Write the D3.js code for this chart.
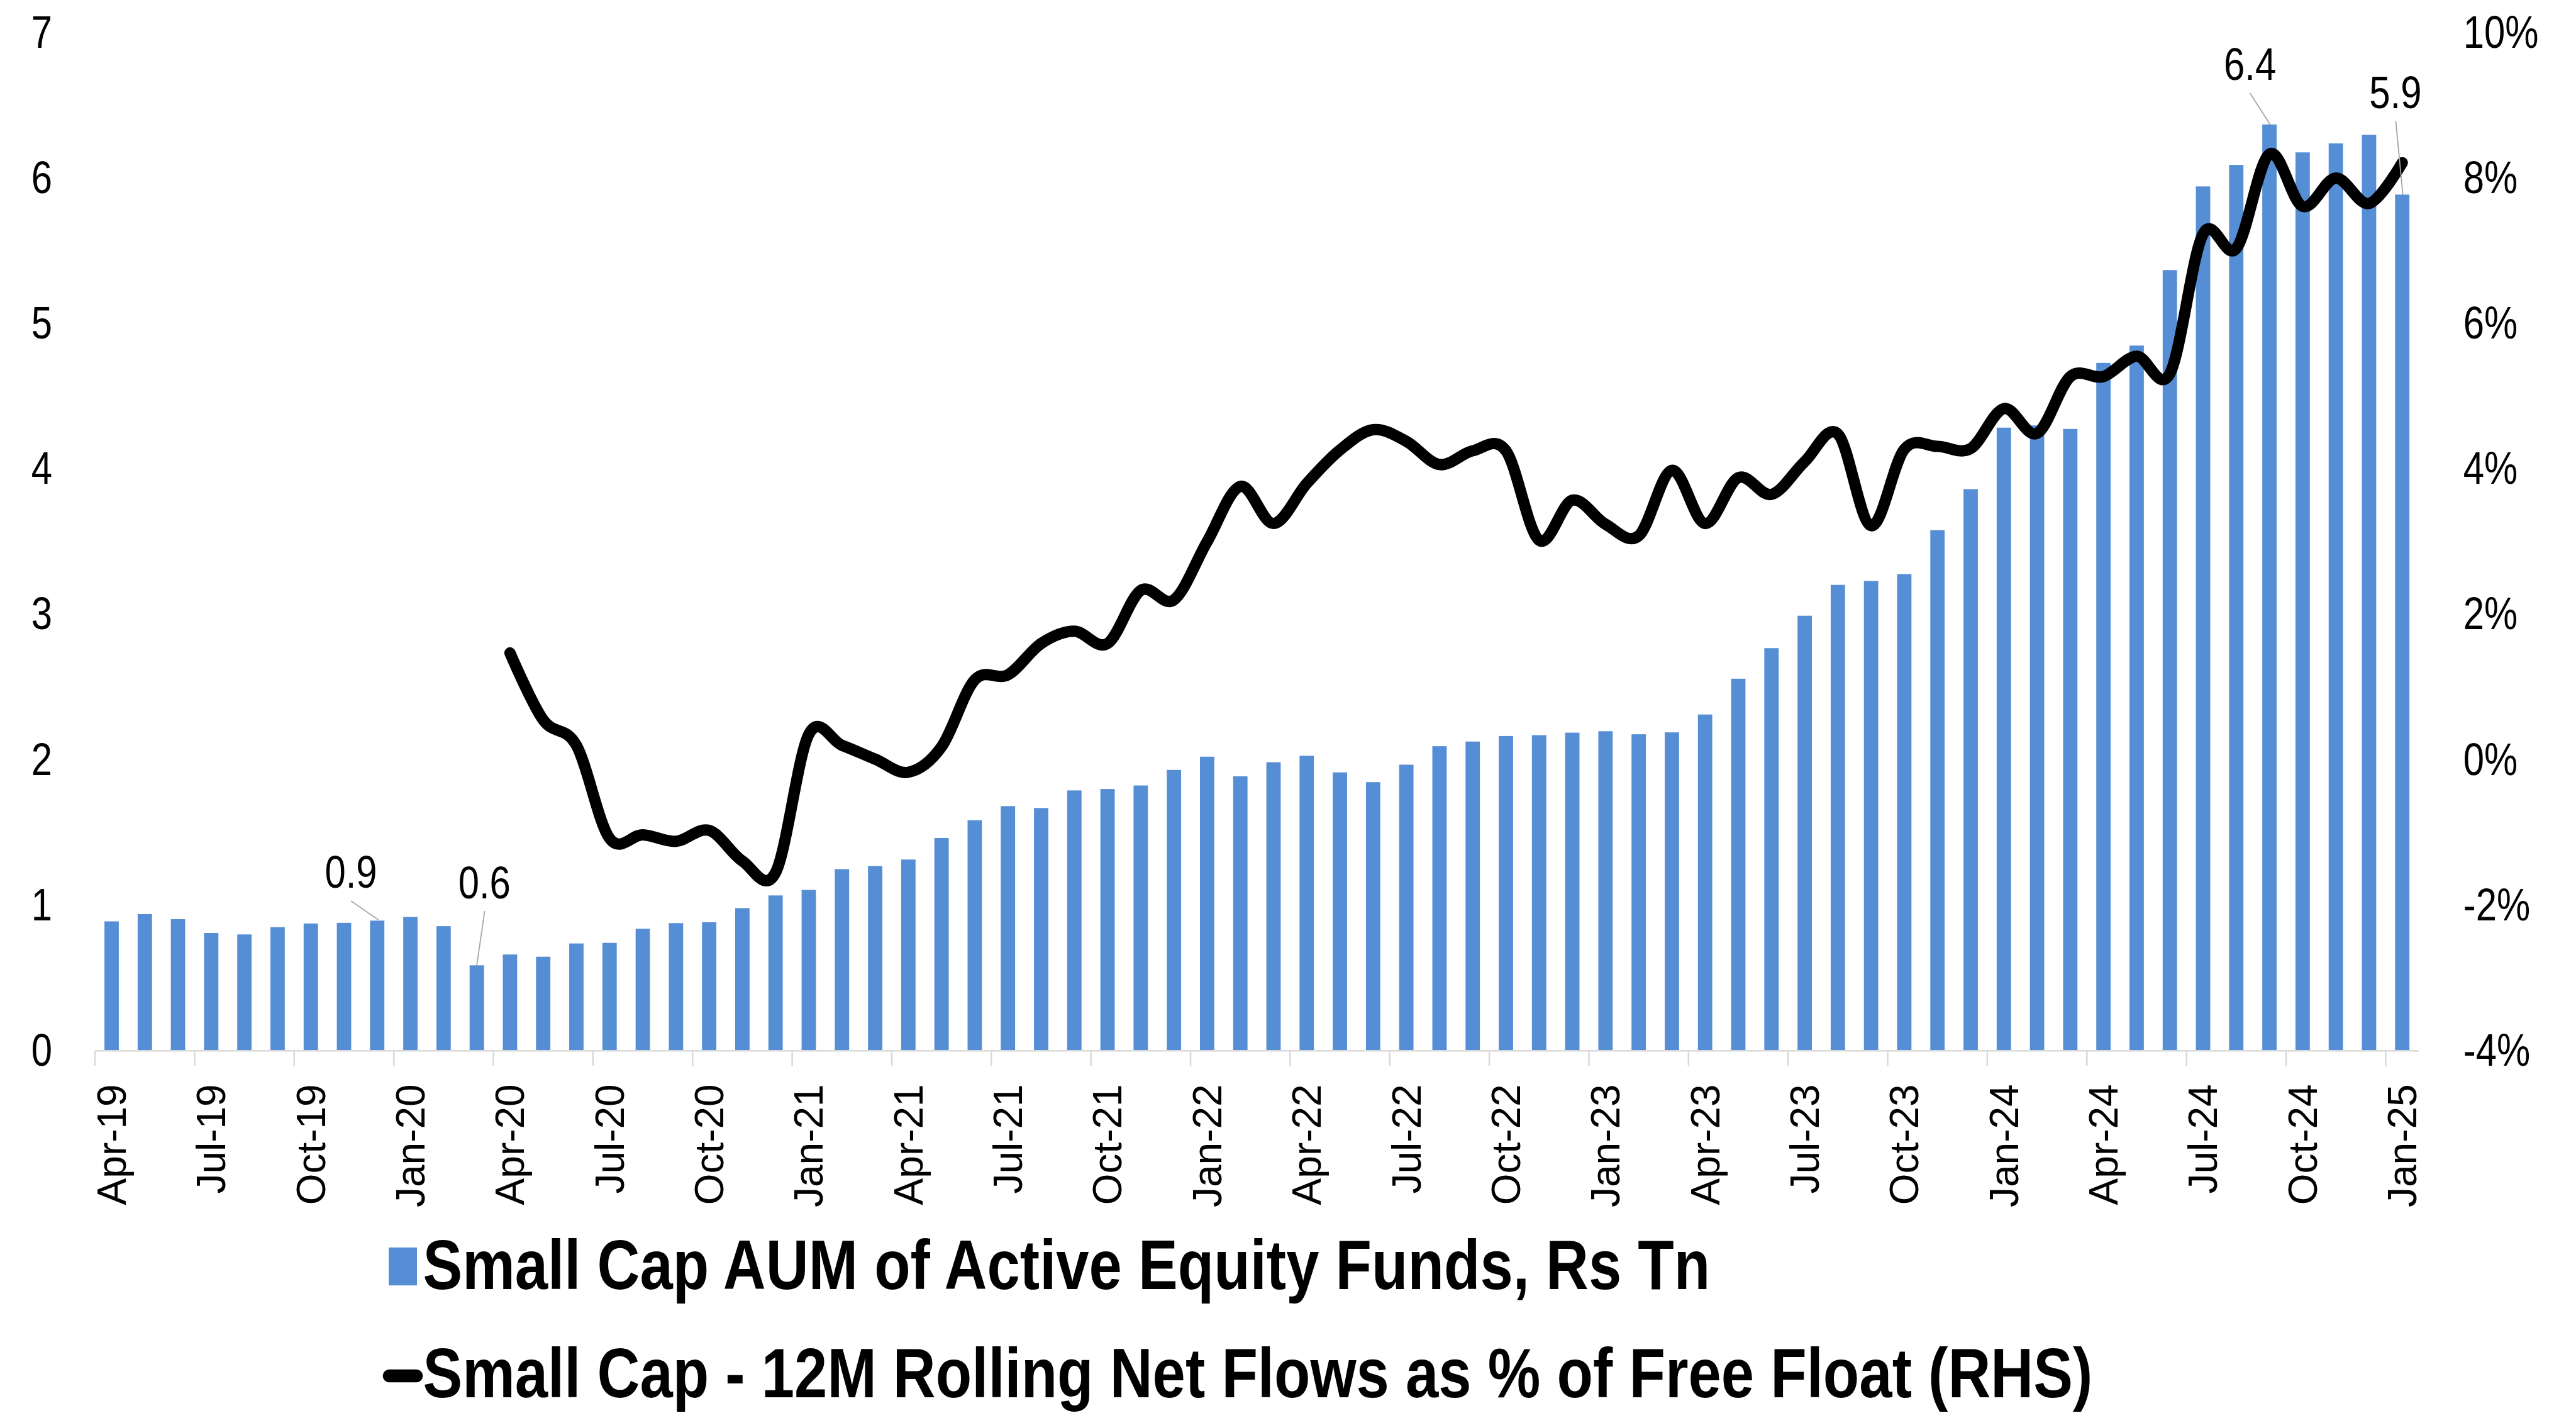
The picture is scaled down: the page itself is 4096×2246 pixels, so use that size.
<!doctype html>
<html>
<head>
<meta charset="utf-8">
<title>Small cap AUM and flows</title>
<script src="https://cdn.jsdelivr.net/npm/d3@7"></script>
<style>
  html, body { margin: 0; padding: 0; background: #fff; }
  svg { display: block; }
  text { font-family: "Liberation Sans", Arial, sans-serif; }
</style>
</head>
<body>
<div id="chart"></div>
<script>
// categories
const months = [
  "Apr-19","May-19","Jun-19","Jul-19","Aug-19","Sep-19","Oct-19","Nov-19","Dec-19",
  "Jan-20","Feb-20","Mar-20","Apr-20","May-20","Jun-20","Jul-20","Aug-20","Sep-20","Oct-20","Nov-20","Dec-20",
  "Jan-21","Feb-21","Mar-21","Apr-21","May-21","Jun-21","Jul-21","Aug-21","Sep-21","Oct-21","Nov-21","Dec-21",
  "Jan-22","Feb-22","Mar-22","Apr-22","May-22","Jun-22","Jul-22","Aug-22","Sep-22","Oct-22","Nov-22","Dec-22",
  "Jan-23","Feb-23","Mar-23","Apr-23","May-23","Jun-23","Jul-23","Aug-23","Sep-23","Oct-23","Nov-23","Dec-23",
  "Jan-24","Feb-24","Mar-24","Apr-24","May-24","Jun-24","Jul-24","Aug-24","Sep-24","Oct-24","Nov-24","Dec-24",
  "Jan-25"
];

// Small Cap AUM of Active Equity Funds, Rs Tn
const aum = [
  0.89, 0.94, 0.905, 0.81, 0.80, 0.85, 0.875, 0.88, 0.895, 0.92, 0.857, 0.588,
  0.662, 0.647, 0.738, 0.742, 0.839, 0.878, 0.884, 0.981, 1.068, 1.106, 1.249, 1.270,
  1.315, 1.463, 1.585, 1.682, 1.669, 1.790, 1.800, 1.824, 1.931, 2.022, 1.887, 1.984,
  2.028, 1.914, 1.847, 1.967, 2.094, 2.126, 2.164, 2.170, 2.187, 2.197, 2.176, 2.189,
  2.312, 2.558, 2.768, 2.991, 3.203, 3.230, 3.277, 3.579, 3.861, 4.284, 4.299, 4.275,
  4.729, 4.848, 5.367, 5.942, 6.090, 6.368, 6.176, 6.238, 6.297, 5.886
];

// 12M rolling net flows as % of free float (RHS), in %
const flows = [
  null, null, null, null, null, null, null, null, null, null, null, null,
  1.47, 0.55, 0.20, -1.08, -1.03, -1.12, -0.97, -1.39, -1.55, 0.35, 0.20, 0.01,
  -0.17, 0.18, 1.10, 1.17, 1.60, 1.77, 1.60, 2.33, 2.20, 3.00, 3.76, 3.25,
  3.80, 4.26, 4.54, 4.38, 4.06, 4.25, 4.25, 3.02, 3.57, 3.24, 3.08, 3.98,
  3.25, 3.88, 3.65, 4.10, 4.48, 3.22, 4.27, 4.31, 4.28, 4.83, 4.49, 5.27,
  5.27, 5.55, 5.31, 7.23, 7.03, 8.33, 7.61, 8.00, 7.65, 8.21
];

// axis ticks
const leftTicks = [0, 1, 2, 3, 4, 5, 6, 7];
const rightTicks = [-4, -2, 0, 2, 4, 6, 8, 10];

// bars that carry a data label
const labelled = ["Dec-19", "Mar-20", "Sep-24", "Jan-25"];

const seriesNames = [
  "Small Cap AUM of Active Equity Funds, Rs Tn",
  "Small Cap - 12M Rolling Net Flows as % of Free Float (RHS)"
];

const W = 4096, H = 2246;
const plotL = 151.1, plotR = 3846.1, plotB = 1670.3, plotT = 51.7;
const NARROW = 0.82;   // no Arial Narrow installed, squeeze Liberation Sans instead

const svg = d3.select("#chart").append("svg")
  .attr("width", W).attr("height", H)
  .attr("viewBox", `0 0 ${W} ${H}`);

svg.append("rect").attr("width", W).attr("height", H).attr("fill", "#fff");

const xCat = d3.scaleBand().domain(months).range([plotL, plotR]).padding(0);
const x = d3.scaleBand().domain(months).range([plotL, plotR])
  .paddingInner(0.568).paddingOuter(0.284);
const cx = m => xCat(m) + xCat.bandwidth() / 2;

const yL = d3.scaleLinear().domain([0, 7]).range([plotB, plotT]);
const yR = d3.scaleLinear().domain([-4, 10]).range([plotB, plotT]);

// bars
svg.append("g").selectAll("rect")
  .data(months)
  .join("rect")
    .attr("x", m => x(m))
    .attr("width", x.bandwidth())
    .attr("y", (m, i) => yL(aum[i]))
    .attr("height", (m, i) => plotB - yL(aum[i]))
    .attr("fill", "#558ed5");

// x axis line + ticks
const gx = svg.append("g");
gx.append("line")
  .attr("x1", plotL).attr("x2", plotR)
  .attr("y1", plotB).attr("y2", plotB)
  .attr("stroke", "#d9d9d9").attr("stroke-width", 2.5);

const every3 = months.filter((m, i) => i % 3 === 0);
gx.selectAll("line.tick")
  .data(every3)
  .join("line")
    .attr("class", "tick")
    .attr("x1", m => xCat(m)).attr("x2", m => xCat(m))
    .attr("y1", plotB).attr("y2", plotB + 24)
    .attr("stroke", "#d9d9d9").attr("stroke-width", 2.5);

gx.selectAll("text")
  .data(every3)
  .join("text")
    .attr("transform", m => `translate(${cx(m)},${plotB + 53}) rotate(-90)`)
    .attr("text-anchor", "end")
    .attr("dy", "0.35em")
    .attr("font-size", 64)
    .attr("fill", "#000")
    .text(m => m);

// left axis
const axL = svg.append("g")
  .attr("transform", `translate(83,0)`)
  .call(d3.axisLeft(yL).tickValues(leftTicks).tickSize(0).tickPadding(0).tickFormat(d3.format("d")));
axL.select(".domain").remove();
axL.selectAll("text")
  .attr("transform", `scale(${NARROW},1)`)
  .attr("font-size", 73)
  .attr("fill", "#000");

// right axis
const axR = svg.append("g")
  .attr("transform", `translate(3916.7,0)`)
  .call(d3.axisRight(yR).tickValues(rightTicks).tickSize(0).tickPadding(0).tickFormat(d => d + "%"));
axR.select(".domain").remove();
axR.selectAll("text")
  .attr("transform", `scale(${NARROW},1)`)
  .attr("font-size", 73)
  .attr("fill", "#000");

// flows line
const line = d3.line()
  .defined(d => d.v !== null)
  .x(d => cx(d.m))
  .y(d => yR(d.v))
  .curve(d3.curveCardinal.tension(0));

svg.append("path")
  .datum(months.map((m, i) => ({ m, v: flows[i] })))
  .attr("d", line)
  .attr("fill", "none")
  .attr("stroke", "#000")
  .attr("stroke-width", 18)
  .attr("stroke-linecap", "round")
  .attr("stroke-linejoin", "round");

// data labels with leader lines (offsets from bar top centre)
const labelPos = {
  "Dec-19": { lx: -41.8, ly: -77.9, sx: -41.8, sy: -31.4, ex: 2, ey: -1 },
  "Mar-20": { lx: 12.1, ly: -131.7, sx: 12.5, sy: -86.1, ex: 0, ey: 0 },
  "Sep-24": { lx: -31, ly: -96.4, sx: -31, sy: -49.9, ex: 1, ey: 0 },
  "Jan-25": { lx: -10.8, ly: -162.7, sx: -10.3, sy: -117.1, ex: 1, ey: 0 }
};

const gl = svg.append("g");
labelled.forEach(m => {
  const i = months.indexOf(m);
  const p = labelPos[m];
  const bx = cx(m), by = yL(aum[i]);
  gl.append("line")
    .attr("x1", bx + p.sx).attr("y1", by + p.sy)
    .attr("x2", bx + p.ex).attr("y2", by + p.ey)
    .attr("stroke", "#a6a6a6").attr("stroke-width", 1.8);
  gl.append("text")
    .attr("transform", `translate(${bx + p.lx},${by + p.ly}) scale(${NARROW},1)`)
    .attr("dy", "0.35em")
    .attr("text-anchor", "middle")
    .attr("font-size", 73)
    .attr("fill", "#000")
    .text(aum[i].toFixed(1));
});

// legend
const lg = svg.append("g");
lg.append("rect")
  .attr("x", 618.2).attr("y", 1982.9)
  .attr("width", 44.8).attr("height", 60.3)
  .attr("fill", "#558ed5");
lg.append("text")
  .attr("transform", `translate(672.4,2049.2) scale(0.84,1)`)
  .attr("font-size", 112).attr("font-weight", "bold")
  .attr("fill", "#000")
  .text(seriesNames[0]);

lg.append("line")
  .attr("x1", 619).attr("x2", 662)
  .attr("y1", 2187).attr("y2", 2187)
  .attr("stroke", "#000").attr("stroke-width", 20.7)
  .attr("stroke-linecap", "round");
lg.append("text")
  .attr("transform", `translate(672.4,2221) scale(0.84,1)`)
  .attr("font-size", 112).attr("font-weight", "bold")
  .attr("fill", "#000")
  .text(seriesNames[1]);
</script>
</body>
</html>
